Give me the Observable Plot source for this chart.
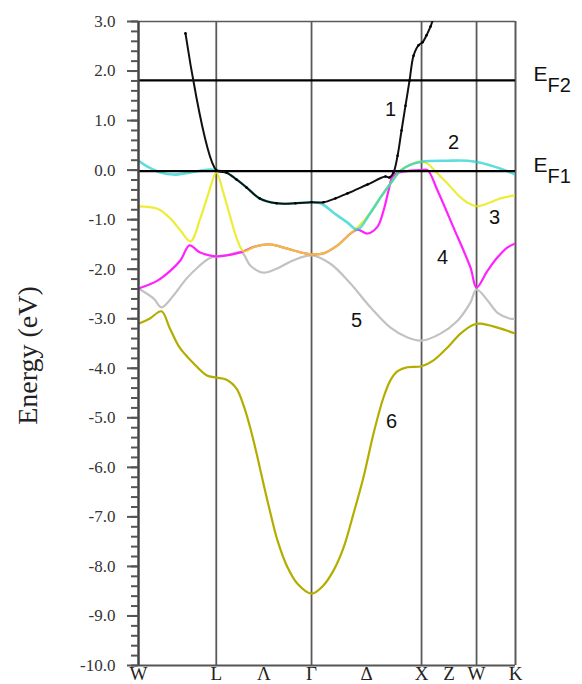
<!DOCTYPE html>
<html><head><meta charset="utf-8">
<script src="https://cdn.jsdelivr.net/npm/d3@7"></script>
<script src="https://cdn.jsdelivr.net/npm/@observablehq/plot@0.6"></script>
<style>html,body{margin:0;padding:0;background:#fff;overflow:hidden;} svg{display:block;overflow:hidden;}
g[aria-label="y-axis tick label"] text, g[aria-label="x-axis tick label"] text {font-family: "Liberation Serif", "Times New Roman", serif; font-variant-numeric: normal;}</style>
</head><body><div id="chart"></div>
<script>
// k-path positions (units of 2π/a) of the symmetry points and labels
const symLabels = ["W","L","Λ","Γ","Δ","X","Z","W","K"];
const symK      = [0, 0.707, 1.14, 1.573, 2.073, 2.573, 2.823, 3.073, 3.427];
const vLinesK   = [0.707, 1.573, 2.573, 3.073];
const fermiLevels = [1.81, -0.02];
const fermiNames  = ["F2", "F1"];

// Band 1 (black)
const band1K = [0.427,0.707,0.8,0.891,0.982,1.1,1.255,1.427,1.573,1.682,1.791,1.9,2.082,2.245,2.282,2.318,2.355,2.391,2.427,2.464,2.5,2.545,2.582,2.618,2.655,2.682];
const band1E = [2.76,0.0,-0.05,-0.19,-0.35,-0.57,-0.67,-0.67,-0.65,-0.65,-0.57,-0.47,-0.29,-0.13,-0.15,-0.05,0.29,0.80,1.30,1.81,2.31,2.52,2.58,2.72,2.90,3.08];
// Band 2 (cyan)
const band2K = [0,0.1,0.2,0.318,0.464,0.645,0.707,0.8,0.891,0.982,1.1,1.255,1.427,1.573,1.655,1.773,1.9,1.991,2.109,2.2,2.291,2.382,2.473,2.573,2.809,2.991,3.109,3.264,3.427];
const band2E = [0.19,0.05,-0.05,-0.09,-0.05,0.01,0.0,-0.05,-0.19,-0.35,-0.57,-0.67,-0.67,-0.65,-0.67,-0.86,-1.06,-1.20,-0.86,-0.55,-0.27,-0.01,0.11,0.17,0.19,0.19,0.15,0.05,-0.09];
// Band 3 (yellow)
const band3K = [0,0.173,0.291,0.382,0.473,0.564,0.636,0.707,0.773,0.836,0.9,0.955,1.064,1.191,1.345,1.473,1.573,1.682,1.809,1.927,1.991,2.109,2.2,2.291,2.382,2.473,2.573,2.627,2.718,2.809,2.927,3.018,3.082,3.2,3.291,3.427];
const band3E = [-0.73,-0.78,-0.98,-1.22,-1.44,-0.96,-0.47,-0.05,-0.47,-0.96,-1.42,-1.64,-1.54,-1.50,-1.58,-1.66,-1.70,-1.68,-1.52,-1.28,-1.16,-0.86,-0.55,-0.27,-0.01,0.11,0.17,0.13,-0.07,-0.27,-0.55,-0.69,-0.73,-0.65,-0.57,-0.51];
// Band 4 (magenta)
const band4K = [0,0.173,0.291,0.382,0.464,0.555,0.645,0.707,0.8,0.891,0.955,1.064,1.191,1.345,1.473,1.573,1.682,1.809,1.927,1.991,2.082,2.173,2.227,2.273,2.309,2.364,2.473,2.573,2.627,2.718,2.864,3.018,3.073,3.173,3.264,3.355,3.427];
const band4E = [-2.39,-2.23,-2.03,-1.82,-1.52,-1.66,-1.72,-1.74,-1.72,-1.68,-1.64,-1.54,-1.50,-1.58,-1.66,-1.70,-1.68,-1.52,-1.28,-1.20,-1.28,-1.14,-0.82,-0.41,-0.13,-0.05,-0.01,0.0,0.0,-0.41,-1.16,-1.97,-2.37,-2.03,-1.76,-1.56,-1.48];
// Band 5 (gray)
const band5K = [0,0.136,0.209,0.318,0.436,0.555,0.645,0.707,0.8,0.936,1.018,1.136,1.255,1.409,1.573,1.745,1.927,2.109,2.291,2.445,2.573,2.745,2.9,3.018,3.073,3.173,3.264,3.382,3.427];
const band5E = [-2.39,-2.59,-2.77,-2.53,-2.19,-1.93,-1.78,-1.74,-1.72,-1.66,-1.93,-2.07,-1.99,-1.82,-1.72,-1.89,-2.29,-2.77,-3.18,-3.38,-3.44,-3.30,-3.04,-2.67,-2.41,-2.63,-2.88,-3.00,-3.00];
// Band 6 (olive)
const band6K = [0,0.1,0.209,0.282,0.373,0.5,0.618,0.707,0.8,0.891,0.955,1.018,1.082,1.136,1.2,1.264,1.355,1.445,1.573,1.682,1.773,1.864,1.955,2.045,2.136,2.227,2.291,2.355,2.445,2.573,2.682,2.809,2.927,3.045,3.109,3.264,3.427];
const band6E = [-3.10,-3.00,-2.85,-3.18,-3.58,-3.90,-4.14,-4.19,-4.23,-4.41,-4.75,-5.22,-5.80,-6.33,-6.93,-7.48,-8.02,-8.35,-8.55,-8.38,-8.08,-7.62,-6.93,-6.20,-5.32,-4.59,-4.24,-4.06,-3.98,-3.96,-3.84,-3.58,-3.30,-3.12,-3.10,-3.18,-3.30];

// band number labels
const labelText = ["1","2","3","4","5","6"];
const labelK    = [2.291, 2.864, 3.236, 2.764, 1.982, 2.3];
const labelE    = [1.23, 0.56, -0.96, -1.76, -3.04, -5.07];

const rows = (k, E) => k.map((v, i) => ({k: v, E: E[i]}));
const bandLabels = labelText.map((t, i) => ({t, k: labelK[i], E: labelE[i]}));
const symTable = symK.map((k, i) => ({k, label: symLabels[i]}));
const labelMap = new Map(symTable.map(d => [d.k, d.label]));
const fermi = fermiLevels.map((e, i) => ({E: e, name: fermiNames[i]}));

const serif = "Liberation Serif, Times New Roman, serif";
const sans = "Liberation Sans, Arial, sans-serif";
const lineOpts = {x: "k", y: "E", curve: "catmull-rom", strokeWidth: 2.2, clip: true};
const minorTicks = d3.range(-50, 16).map(i => i / 5);
const majorTicks = d3.range(-10, 4);

const plot = Plot.plot({
  width: 582, height: 684,
  marginLeft: 138, marginRight: 67, marginTop: 21, marginBottom: 19,
  style: {fontFamily: serif, background: "#fff"},
  x: {domain: [0, 3.427], axis: null},
  y: {domain: [-10, 3], axis: null},
  marks: [
    Plot.ruleX(vLinesK, {stroke: "#5a5a5a", strokeWidth: 1.8}),
    Plot.ruleX([3.427], {stroke: "#5a5a5a", strokeWidth: 2}),
    Plot.ruleY([3], {stroke: "#5a5a5a", strokeWidth: 1.6}),
    Plot.ruleY([-10], {stroke: "#555", strokeWidth: 2.2}),
    Plot.line(rows(band6K, band6E), {...lineOpts, stroke: "#b3ad00"}),
    Plot.line(rows(band5K, band5E), {...lineOpts, stroke: "#c2c2c2"}),
    Plot.line(rows(band4K, band4E), {...lineOpts, stroke: "#ff22ff"}),
    Plot.line(rows(band3K, band3E), {...lineOpts, stroke: "#e8e800", strokeOpacity: 0.78}),
    Plot.line(rows(band2K, band2E), {...lineOpts, stroke: "#20d0d0", strokeOpacity: 0.72, strokeWidth: 2.6}),
    Plot.ruleY(fermi, {y: "E", stroke: "#000", strokeWidth: 2.3}),
    Plot.line(rows(band1K, band1E), {...lineOpts, stroke: "#111", strokeWidth: 2}),
    Plot.dot(rows(band1K, band1E), {x: "k", y: "E", r: 1.3, fill: "#000", clip: true}),
    Plot.ruleX([0], {stroke: "#444", strokeWidth: 2.5}),
    Plot.axisY(minorTicks, {tickSize: 7, tickFormat: () => "", label: null, stroke: "#555", strokeWidth: 2}),
    Plot.axisY(majorTicks, {tickSize: 11, tickPadding: 12, tickFormat: d => d.toFixed(1), label: null, stroke: "#555", strokeWidth: 2, fontSize: 17, fontFamily: serif, fill: "#333"}),
    Plot.axisX(symK, {tickSize: 0, tickPadding: 1, tickFormat: d => labelMap.get(d), label: null, fontSize: 19, fontFamily: serif, fill: "#222"}),
    Plot.text(["Energy (eV)"], {frameAnchor: "left", text: d => d, textAnchor: "middle", rotate: -90, dx: -110, dy: 12, fontSize: 28, fontFamily: serif, fill: "#222"}),
    Plot.text(bandLabels, {x: "k", y: "E", text: "t", fontFamily: sans, fontSize: 20, fill: "#111"}),
    Plot.text(fermi, {x: () => 3.427, y: "E", text: () => "E", textAnchor: "start", dx: 18, dy: -6, fontFamily: sans, fontSize: 21, fill: "#111"}),
    Plot.text(fermi, {x: () => 3.427, y: "E", text: "name", textAnchor: "start", dx: 32, dy: 5, fontFamily: sans, fontSize: 20, fill: "#111"})
  ]
});
document.getElementById("chart").appendChild(plot);
</script>
</body></html>
